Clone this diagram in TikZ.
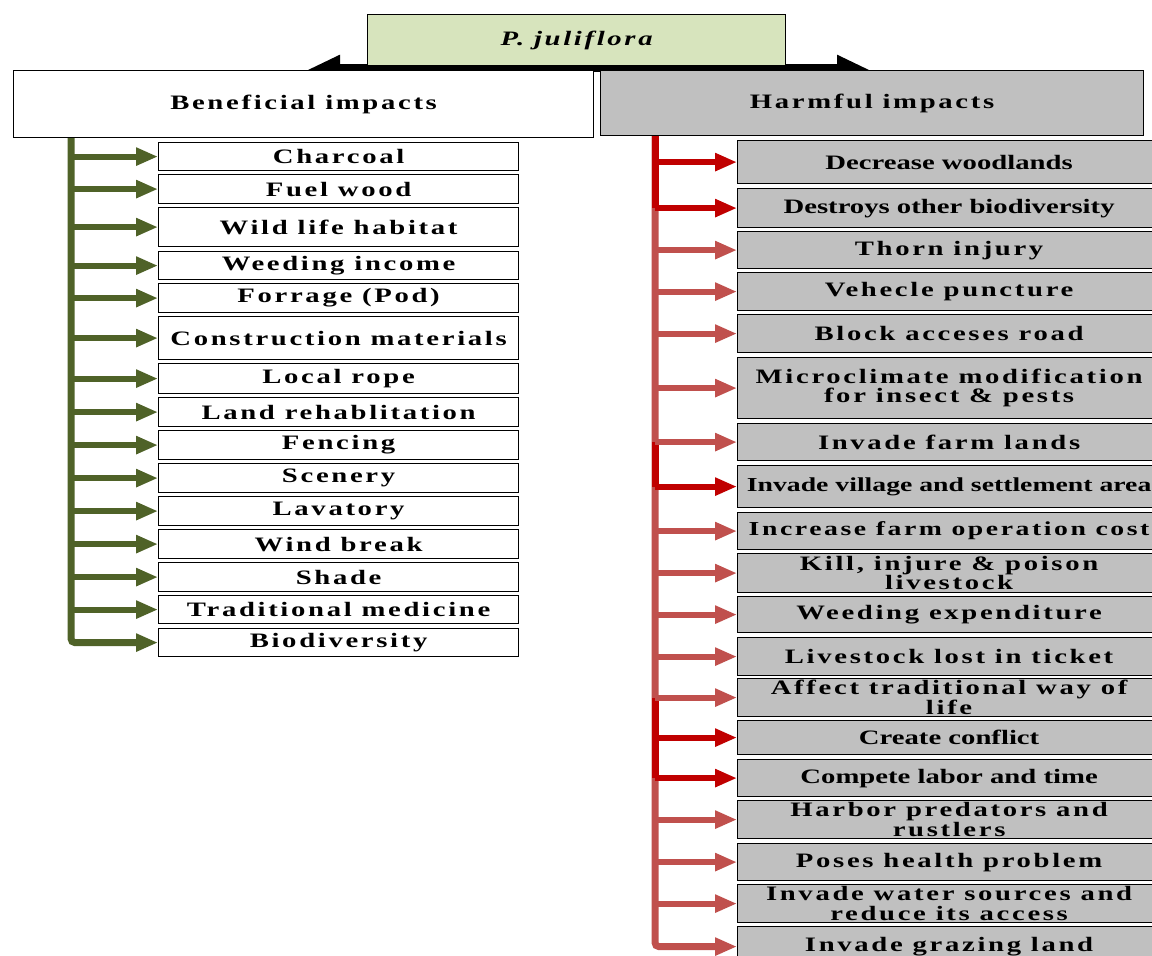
\documentclass[tikz,border=0pt]{standalone}
\usepackage{fontspec}
\setmainfont{Liberation Serif}
\newfontfamily\plainfont[FakeStretch=1.40]{Liberation Serif}
\newfontfamily\spacedfont[FakeStretch=1.40,LetterSpace=13]{Liberation Serif}
\usetikzlibrary{positioning,arrows.meta,calc}

\definecolor{topfill}{HTML}{D7E4BD}
\definecolor{boxgray}{HTML}{C0C0C0}
\definecolor{goodline}{HTML}{4F6228}
\definecolor{badline}{HTML}{C0504D}
\definecolor{worseline}{HTML}{C00000}

\tikzset{
    sp/.style={font=\fontsize{20.5}{19.5}\spacedfont\bfseries},
    pl/.style={font=\fontsize{20.5}{19.5}\plainfont\bfseries},
    spsmall/.style={font=\fontsize{19.8}{19.5}\spacedfont\bfseries},
    plsmall/.style={font=\fontsize{19.8}{19.5}\plainfont\bfseries},
    headbox/.style={draw=black, line width=1.2pt, anchor=north west, inner sep=0pt, align=center},
    leftbox/.style={headbox, fill=white, minimum width=360pt},
    rightbox/.style={headbox, fill=boxgray, minimum width=423pt},
    bigarrow/.style={line width=12pt, -{Triangle[length=33pt,width=28pt]}},
    goodtrunk/.style={draw=goodline, line width=7pt, rounded corners=4pt, -{Triangle[length=22pt,width=17pt]}},
    goodbranch/.style={draw=goodline, line width=6pt, -{Triangle[length=22pt,width=17pt]}},
    badtrunk/.style={draw=badline, line width=7pt, rounded corners=4pt, -{Triangle[length=22pt,width=17pt]}},
    badbranch/.style={draw=badline, line width=6pt, -{Triangle[length=22pt,width=17pt]}},
    worsebranch/.style={draw=worseline, line width=6pt, -{Triangle[length=22pt,width=17pt]}},
    worsetrunk/.style={draw=worseline, line width=7pt}
}

\begin{document}
\begin{tikzpicture}[x=1pt, y=-1pt]
    \useasboundingbox (0,0) rectangle (1152,956);

    % Top box
    \node[headbox, fill=topfill, minimum width=418pt, minimum height=51pt,
          font=\fontsize{20.5}{19.5}\spacedfont\bfseries\itshape] (juli) at (367,14) {P. juliflora};

    % Split arrows (half hidden by the boxes below)
    \coordinate (tipL) at (307,70);
    \coordinate (tipR) at (870,70);
    \draw[line width=6pt] ([yshift=-3pt]juli.south west) -- ([yshift=-3pt]juli.south east);
    \draw[bigarrow] (juli.south west |- tipL) -- (tipL);
    \draw[bigarrow] (juli.south east |- tipR) -- (tipR);

    % Main boxes
    \node[headbox, fill=white, minimum width=580pt, minimum height=67pt, sp] (ben) at (13,70) {Beneficial impacts};
    \node[headbox, fill=boxgray, minimum width=543pt, minimum height=65pt, sp] (harm) at (600,70) {Harmful impacts};

    % Beneficial impacts
    \foreach \y/\h/\txt [count=\i] in {
        142/28/Charcoal, 174/29/Fuel wood, 207/39/Wild life habitat,
        251/28/Weeding income, 283/29/Forrage (Pod), 316/43/Construction materials,
        363/30/Local rope, 397/29/Land rehablitation, 430/29/Fencing,
        463/29/Scenery, 496/29/Lavatory, 529/29/Wind break,
        562/29/Shade, 595/28/Traditional medicine, 628/28/Biodiversity}
        \node[leftbox, sp, minimum height=\h pt] (b\i) at (158,\y) {\txt};

    \coordinate (ltop) at ([xshift=58pt]ben.south west);
    \draw[goodtrunk] (ltop) |- (b15.west);
    \foreach \i in {1,...,14}
        \draw[goodbranch] (ltop |- b\i.west) -- (b\i.west);

    % Harmful impacts
    \foreach \y/\h/\f/\txt [count=\i] in {
        140/43/pl/Decrease woodlands,
        188/39/pl/Destroys other biodiversity,
        231/37/sp/Thorn injury,
        272/38/sp/Vehecle puncture,
        314/38/sp/Block acceses road,
        357/61/sp/{Microclimate modification\\for insect \& pests},
        423/37/sp/Invade farm lands,
        465/42/plsmall/Invade village and settlement area,
        512/37/spsmall/Increase farm operation cost,
        553/39/sp/{Kill, injure \& poison\\livestock},
        596/36/sp/Weeding expenditure,
        637/38/sp/Livestock lost in ticket,
        678/38/sp/{Affect traditional way of\\life},
        720/34/pl/Create conflict,
        759/37/pl/Compete labor and time,
        800/38/sp/{Harbor predators and\\rustlers},
        843/37/sp/Poses health problem,
        884/38/sp/{Invade water sources and\\reduce its access},
        926/40/sp/Invade grazing land}
        \node[rightbox, \f, minimum height=\h pt] (h\i) at (737,\y) {\txt};

    \coordinate (rtop) at ([xshift=55pt]harm.south west);
    \draw[badtrunk] (rtop) |- (h19.west);
    \draw[worsetrunk] (rtop) -- (rtop |- h2.west);
    \draw[worsetrunk] (rtop |- h7.west) -- (rtop |- h8.west);
    \draw[worsetrunk] (rtop |- h13.west) -- (rtop |- h15.west);
    \foreach \i in {3,4,5,6,7,9,10,11,12,13,16,17,18}
        \draw[badbranch] (rtop |- h\i.west) -- (h\i.west);
    \foreach \i in {1,2,8,14,15}
        \draw[worsebranch] (rtop |- h\i.west) -- (h\i.west);
\end{tikzpicture}
\end{document}
